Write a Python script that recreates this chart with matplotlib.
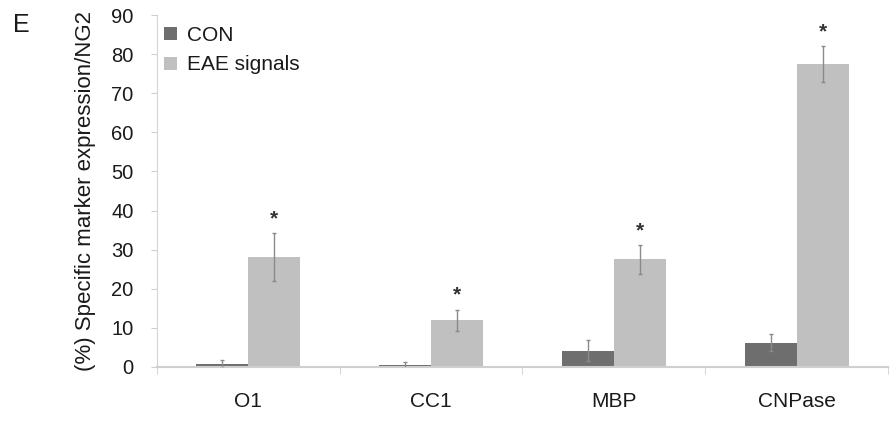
import numpy as np
import matplotlib.pyplot as plt

plt.rcParams['font.family'] = ['Liberation Sans', 'DejaVu Sans']

categories = ['O1', 'CC1', 'MBP', 'CNPase']
con_vals = [0.8, 0.4, 4.2, 6.2]
con_err = [1.1, 0.8, 2.6, 2.2]
eae_vals = [28.2, 12.0, 27.5, 77.5]
eae_err = [6.1, 2.7, 3.8, 4.6]
stars = ['*', '*', '*', '*']

fig = plt.figure(figsize=(8.92, 4.23), dpi=100)
ax = fig.add_axes([0.176, 0.1324, 0.8195, 0.8321])

x = np.arange(len(categories))
w = 0.285
ax.bar(x - w / 2, con_vals, w, color='#6e6e6e', label='CON', zorder=2)
ax.bar(x + w / 2, eae_vals, w, color='#c0c0c0', label='EAE signals', zorder=2)
ax.errorbar(x - w / 2, con_vals, yerr=con_err, fmt='none', ecolor='#8a8a8a',
            elinewidth=1, capsize=1.5, zorder=3)
ax.errorbar(x + w / 2, eae_vals, yerr=eae_err, fmt='none', ecolor='#8a8a8a',
            elinewidth=1, capsize=1.5, zorder=3)

# significance markers
for xi, v, e, s in zip(x, eae_vals, eae_err, stars):
    ax.text(xi + w / 2, v + e + 1.2, s, ha='center', va='bottom', fontsize=15,
            color='#333333', fontweight='bold')

ax.set_xlim(-0.5, 3.5)
ax.set_ylim(0, 90)
ax.set_yticks(range(0, 91, 10))
ax.set_xticks(x)
ax.set_xticklabels(categories, fontsize=15, color='#1a1a1a')
ax.set_xticks(np.arange(-0.5, 3.6, 1), minor=True)
ax.tick_params(axis='x', which='major', length=0, pad=18)
ax.tick_params(axis='x', which='minor', length=5, color='#cfcfcf', direction='out')
ax.tick_params(axis='y', length=4, color='#cfcfcf', labelsize=14.5, pad=13,
               labelcolor='#1a1a1a')

for side in ['top', 'right']:
    ax.spines[side].set_visible(False)
ax.spines['left'].set_color('#d5d5d5')
ax.spines['bottom'].set_color('#cfcfcf')
ax.spines['bottom'].set_linewidth(1.5)

ax.set_ylabel('(%) Specific marker expression/NG2', fontsize=16, labelpad=11,
              color='#1a1a1a')

ax.legend(loc='upper left', bbox_to_anchor=(-0.01, 1.01), frameon=False, fontsize=15,
          handlelength=0.6, handleheight=0.6, handletextpad=0.5, labelspacing=0.5,
          borderaxespad=0.3, labelcolor='#1a1a1a')

fig.text(0.015, 0.925, 'E', fontsize=18, color='#1a1a1a')

fig.savefig('out.png', dpi=100)
